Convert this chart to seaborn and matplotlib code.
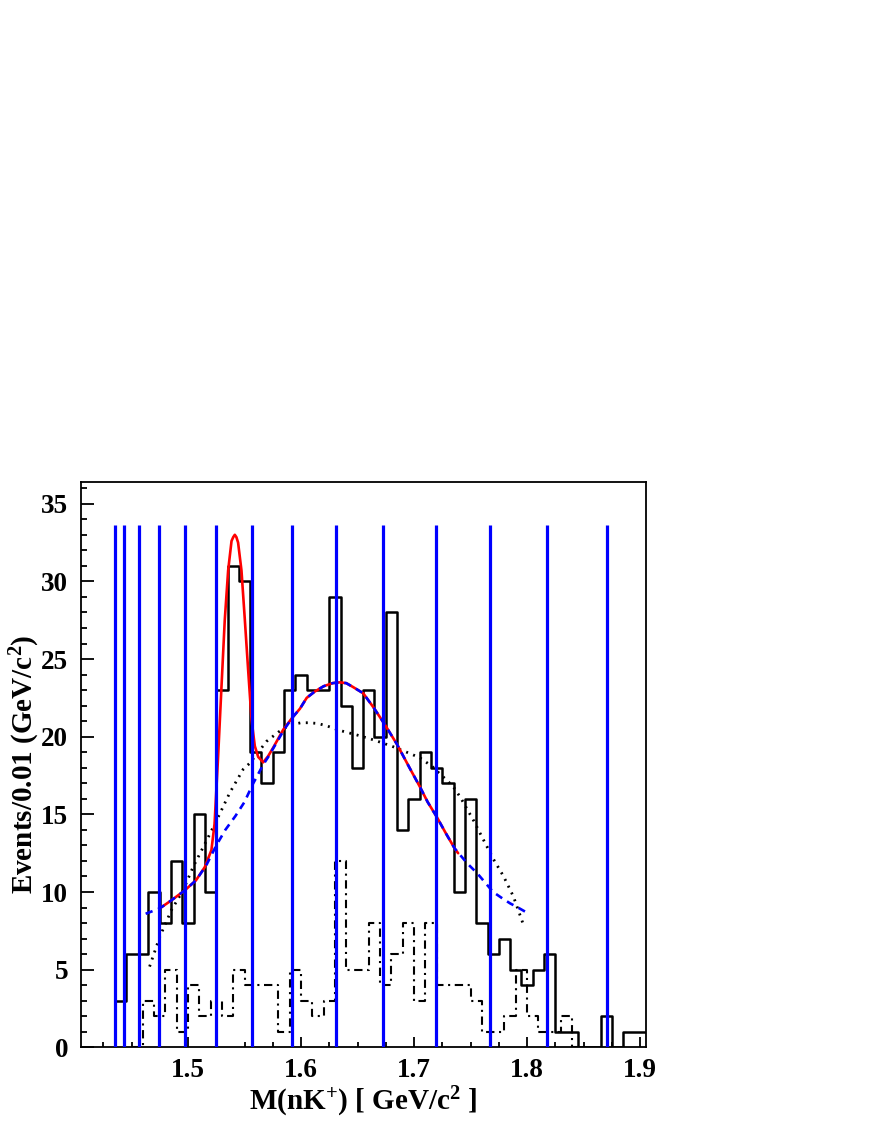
import numpy as np
import pandas as pd
import matplotlib
matplotlib.use("Agg")
import matplotlib.pyplot as plt
import seaborn as sns
from matplotlib.ticker import MultipleLocator

# ---------------- data ----------------
# main histogram: bins of 0.01 GeV/c^2, edges 1.435 ... 1.905
main_edges = [round(v, 3) for v in np.arange(1.435, 1.9051, 0.01)]
main_counts = [3, 6, 6, 10, 8, 12, 8, 15, 10, 23,
               31, 30, 19, 17, 19, 23, 24, 23, 23, 29,
               22, 18, 23, 20, 28, 14, 16, 19, 18, 17,
               10, 16, 8, 6, 7, 5, 4, 5, 6, 1,
               1, 0, 0, 2, 0, 1, 1]

# dash-dot histogram: edges 1.45 ... 1.85
bkg_edges = [round(v, 3) for v in np.arange(1.45, 1.8501, 0.01)]
bkg_counts = [0, 3, 2, 5, 1, 4, 2, 3, 2, 5, 4,
              4, 4, 1, 5, 3, 2, 3, 12, 5, 5,
              8, 4, 6, 8, 3, 8, 4, 4, 4, 3,
              1, 1, 2, 5, 2, 1, 1, 2, 0]

# red: total fit
fit_x = [1.475, 1.485, 1.497, 1.507, 1.5148, 1.5207, 1.5235, 1.5266, 1.5296,
         1.5325, 1.5355, 1.5385, 1.5400, 1.5414, 1.5428, 1.5443, 1.5473, 1.5503,
         1.5532, 1.5562, 1.5591, 1.5621, 1.5665, 1.5709, 1.5754, 1.5842, 1.592,
         1.599, 1.605, 1.612, 1.620, 1.628, 1.634, 1.640, 1.646, 1.655, 1.664,
         1.674, 1.685, 1.696, 1.705, 1.712, 1.720, 1.728, 1.736, 1.739]
fit_y = [8.95, 9.45, 10.1, 10.75, 11.6, 12.7, 14.4, 18.7, 23.2,
         27.5, 30.7, 32.6, 32.85, 33.0, 32.85, 32.5, 30.7, 27.5,
         24.3, 21.1, 19.4, 18.7, 18.35, 18.75, 19.3, 20.45, 21.2,
         21.8, 22.5, 22.9, 23.25, 23.45, 23.5, 23.45, 23.2, 22.8, 21.9,
         20.8, 19.5, 18.0, 16.8, 15.8, 14.85, 13.8, 12.8, 12.5]

# blue dashed: background part of fit
bg_x = [1.4625, 1.475, 1.485, 1.497, 1.507, 1.516, 1.525, 1.533, 1.542, 1.550,
        1.557, 1.5665, 1.571, 1.5754, 1.585, 1.592, 1.599, 1.605, 1.612, 1.620,
        1.628, 1.634, 1.640, 1.646, 1.655, 1.664, 1.674, 1.685, 1.696, 1.705,
        1.712, 1.720, 1.728, 1.736, 1.747, 1.756, 1.763, 1.770, 1.778, 1.785,
        1.792, 1.7985]
bg_y = [8.6, 8.95, 9.45, 10.1, 10.75, 11.7, 13.0, 14.0, 14.9, 15.8,
        16.9, 18.2, 18.7, 19.25, 20.45, 21.2, 21.8, 22.5, 22.9, 23.25,
        23.45, 23.5, 23.45, 23.2, 22.8, 21.9, 20.8, 19.5, 18.0, 16.8,
        15.8, 14.85, 13.8, 12.8, 11.85, 11.2, 10.6, 10.0, 9.6, 9.27,
        9.0, 8.73]

# black dotted curve
dot_x = [1.466, 1.4749, 1.4853, 1.4956, 1.5044, 1.5163, 1.5252, 1.537, 1.5488,
         1.5547, 1.5695, 1.580, 1.590, 1.600, 1.607, 1.615, 1.6227, 1.6345,
         1.650, 1.664, 1.680, 1.6936, 1.705, 1.7158, 1.723, 1.729, 1.735,
         1.741, 1.7527, 1.7615, 1.7704, 1.7793, 1.788, 1.797]
dot_y = [5.2, 7.1, 8.84, 10.1, 11.6, 13.3, 14.6, 16.4, 17.9,
         18.3, 19.7, 20.3, 20.75, 20.9, 20.9, 20.85, 20.7, 20.4,
         20.1, 19.8, 19.4, 19.0, 18.65, 18.1, 17.6, 17.2, 16.75,
         16.1, 14.6, 13.35, 12.1, 11.0, 9.7, 7.85]

# blue vertical lines
vline_x = [1.4350, 1.4430, 1.4563, 1.4743, 1.4973, 1.5246, 1.5567, 1.5917,
           1.6309, 1.6729, 1.7193, 1.7668, 1.8177, 1.8703]
vline_top = 33.6

x_label = r"M(nK$^{+}$) [ GeV/c$^{2}$ ]"
y_label = r"Events/0.01 (GeV/c$^{2}$)"

# ---------------- style ----------------
sns.set_style("ticks")
plt.rcParams["font.family"] = ["Liberation Serif", "DejaVu Serif"]
plt.rcParams["font.weight"] = "bold"
plt.rcParams["mathtext.fontset"] = "custom"
plt.rcParams["mathtext.rm"] = "Liberation Serif:bold"
plt.rcParams["mathtext.it"] = "Liberation Serif:bold"
plt.rcParams["mathtext.bf"] = "Liberation Serif:bold"
plt.rcParams["mathtext.default"] = "regular"
for key in ["text.color", "axes.labelcolor", "xtick.color", "ytick.color",
            "axes.edgecolor"]:
    plt.rcParams[key] = "black"

fig = plt.figure(figsize=(8.72, 11.28), dpi=100)
ax = fig.add_axes([0.0925, 0.0715, 0.648, 0.5012])

main_df = pd.DataFrame({
    "m": [(a + b) / 2 for a, b in zip(main_edges[:-1], main_edges[1:])],
    "n": main_counts})
bkg_df = pd.DataFrame({
    "m": [(a + b) / 2 for a, b in zip(bkg_edges[:-1], bkg_edges[1:])],
    "n": bkg_counts})

sns.histplot(data=bkg_df, x="m", weights="n", bins=bkg_edges, element="step",
             fill=False, color="black", linewidth=1.5,
             linestyle=(0, (4, 2.2, 1, 2.2)), ax=ax)
sns.histplot(data=main_df, x="m", weights="n", bins=main_edges, element="step",
             fill=False, color="black", linewidth=1.8, ax=ax)

sns.lineplot(x=dot_x, y=dot_y, color="black", linewidth=2.0,
             linestyle=(0, (0.7, 2.0)), ax=ax)
sns.lineplot(x=fit_x, y=fit_y, color="red", linewidth=1.9, ax=ax)
sns.lineplot(x=bg_x, y=bg_y, color="blue", linewidth=1.9,
             linestyle=(0, (2.8, 2.2)), ax=ax)

ax.vlines(vline_x, 0, vline_top, colors="blue", linewidth=2.3, zorder=5)

ax.set_xlim(1.405, 1.905)
ax.set_ylim(0, 36.4)

ax.xaxis.set_major_locator(MultipleLocator(0.1))
ax.xaxis.set_minor_locator(MultipleLocator(0.025))
ax.yaxis.set_major_locator(MultipleLocator(5))
ax.yaxis.set_minor_locator(MultipleLocator(1))
ax.xaxis.set_major_formatter(matplotlib.ticker.FormatStrFormatter("%.1f"))

ax.tick_params(axis="both", which="both", direction="in", top=False, right=False,
               width=1.3, colors="black", labelsize=19.5)
ax.tick_params(axis="x", which="major", length=7.5, pad=8)
ax.tick_params(axis="x", which="minor", length=3.5)
ax.tick_params(axis="y", which="major", length=9, pad=9)
ax.tick_params(axis="y", which="minor", length=4.5)

for s in ax.spines.values():
    s.set_linewidth(1.3)
    s.set_color("black")
    s.set_visible(True)

ax.set_xlabel(x_label, fontsize=21, fontweight="bold", labelpad=1)
ax.set_ylabel(y_label, fontsize=21, fontweight="bold", labelpad=-1)

fig.savefig("out.png", dpi=100)
